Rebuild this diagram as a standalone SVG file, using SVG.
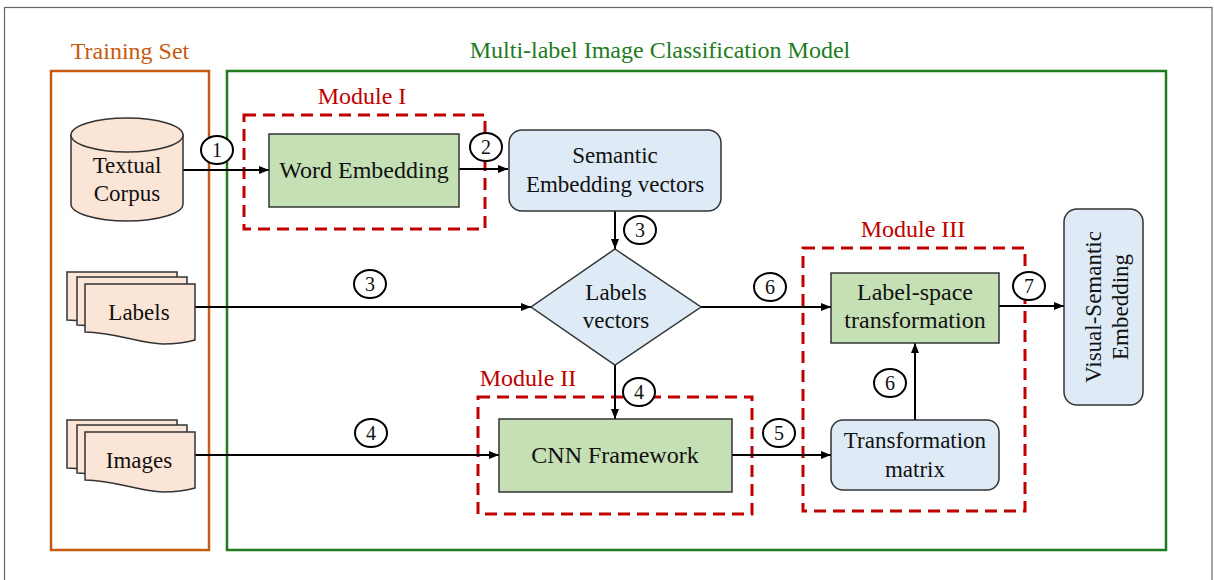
<svg xmlns="http://www.w3.org/2000/svg" width="1214" height="580" viewBox="0 0 1214 580" font-family="'Liberation Serif', 'Times New Roman', serif">
<defs>
<style>
text{font-family:'Liberation Serif','Times New Roman',serif;fill:#111;}
.t{font-size:23px;text-anchor:middle;}
.b{font-size:24px;}
.num{font-size:20px;text-anchor:middle;}
.mod{font-size:24px;text-anchor:middle;fill:#C00000;}
.node{stroke:#333;stroke-width:1.5;}
.green{fill:#C5E0B4;}
.blue{fill:#DEEBF7;}
.peach{fill:#FBE5D6;}
.dash{fill:none;stroke:#C00000;stroke-width:3;stroke-dasharray:12 7;}
.circ{fill:#fff;stroke:#000;stroke-width:2;}
.conn{fill:none;stroke:#000;stroke-width:2;marker-end:url(#ah);}
</style>
<marker id="ah" markerUnits="userSpaceOnUse" markerWidth="10" markerHeight="8" refX="10" refY="4" orient="auto">
<path d="M0,0 L10,4 L0,8 Z" fill="#000"/>
</marker>
<path id="doc" d="M0,0 H110 V56 C103,58 93,60 78,60 C55,60 30,48 0,48 Z"/>
</defs>
<rect x="0" y="0" width="1214" height="580" fill="#fff"/>
<rect x="4.5" y="7.5" width="1207.5" height="600" fill="none" stroke="#666" stroke-width="1.2"/>

<g id="training-set">
<rect x="51" y="71" width="158" height="479" fill="none" stroke="#C55A11" stroke-width="2.5"/>
<text x="130" y="59" class="t b" style="fill:#C55A11">Training Set</text>
</g>
<g id="model">
<rect x="227" y="71" width="939" height="479" fill="none" stroke="#1E7B1E" stroke-width="2.5"/>
<text x="660" y="58" class="t b" style="fill:#1E7B1E">Multi-label Image Classification Model</text>
</g>

<g id="module-1">
<rect x="244" y="115" width="241" height="114" class="dash"/>
<text x="362" y="104" class="mod">Module I</text>
</g>
<g id="module-2">
<rect x="478" y="397" width="274" height="117" class="dash"/>
<text x="528" y="386" class="mod">Module II</text>
</g>
<g id="module-3">
<rect x="803" y="248" width="222" height="263" class="dash"/>
<text x="913" y="237" class="mod">Module III</text>
</g>

<g id="connectors">
<line x1="183" y1="170" x2="269" y2="170" class="conn"/>
<line x1="459" y1="169" x2="508" y2="169" class="conn"/>
<line x1="615" y1="211" x2="615" y2="249" class="conn"/>
<line x1="195" y1="307" x2="531" y2="307" class="conn"/>
<line x1="701" y1="307" x2="831" y2="307" class="conn"/>
<line x1="615" y1="365" x2="615" y2="419" class="conn"/>
<line x1="195" y1="455" x2="499" y2="455" class="conn"/>
<line x1="732" y1="455" x2="831" y2="455" class="conn"/>
<line x1="915" y1="420" x2="915" y2="343" class="conn"/>
<line x1="999" y1="306" x2="1064" y2="306" class="conn"/>
<g id="step-labels">
<ellipse cx="217" cy="150" rx="16" ry="14" class="circ"/><text x="217" y="157" class="num">1</text>
<ellipse cx="486" cy="147" rx="16" ry="14" class="circ"/><text x="486" y="154" class="num">2</text>
<ellipse cx="640" cy="230" rx="16" ry="14" class="circ"/><text x="640" y="237" class="num">3</text>
<ellipse cx="370" cy="284" rx="16" ry="14" class="circ"/><text x="370" y="291" class="num">3</text>
<ellipse cx="639" cy="392" rx="16" ry="14" class="circ"/><text x="639" y="399" class="num">4</text>
<ellipse cx="371" cy="433" rx="16" ry="14" class="circ"/><text x="371" y="440" class="num">4</text>
<ellipse cx="779" cy="433" rx="16" ry="14" class="circ"/><text x="779" y="440" class="num">5</text>
<ellipse cx="770" cy="287" rx="16" ry="14" class="circ"/><text x="770" y="294" class="num">6</text>
<ellipse cx="890" cy="383" rx="16" ry="14" class="circ"/><text x="890" y="390" class="num">6</text>
<ellipse cx="1029" cy="286" rx="16" ry="14" class="circ"/><text x="1029" y="293" class="num">7</text>
</g>
</g>

<g id="textual-corpus">
<path d="M71,135 V204 A56,17 0 0 0 183,204 V135 Z" class="peach node"/>
<ellipse cx="127" cy="135" rx="56" ry="17" class="peach node"/>
<text x="127" y="173" class="t">Textual</text>
<text x="127" y="201" class="t">Corpus</text>
</g>

<g id="labels">
<use href="#doc" x="67" y="272" class="peach node"/>
<use href="#doc" x="77" y="277" class="peach node"/>
<use href="#doc" x="85" y="284" class="peach node"/>
<text x="139" y="320" class="t">Labels</text>
</g>

<g id="images">
<use href="#doc" x="67" y="420" class="peach node"/>
<use href="#doc" x="77" y="425" class="peach node"/>
<use href="#doc" x="85" y="432" class="peach node"/>
<text x="139" y="468" class="t">Images</text>
</g>

<g id="word-embedding">
<rect x="269" y="134" width="190" height="73" class="green node"/>
<text x="364" y="178" class="t b">Word Embedding</text>
</g>

<g id="semantic-embedding">
<rect x="509" y="130" width="212" height="81" rx="13" class="blue node"/>
<text x="615" y="163" class="t">Semantic</text>
<text x="615" y="192" class="t">Embedding vectors</text>
</g>

<g id="labels-vectors">
<polygon points="615,249 701,307 615,365 531,307" class="blue node"/>
<text x="616" y="300" class="t">Labels</text>
<text x="616" y="328" class="t">vectors</text>
</g>

<g id="cnn-framework">
<rect x="499" y="419" width="233" height="73" class="green node"/>
<text x="615" y="463" class="t b">CNN Framework</text>
</g>

<g id="label-space-transformation">
<rect x="831" y="273" width="168" height="70" class="green node"/>
<text x="915" y="300" class="t b">Label-space</text>
<text x="915" y="328" class="t b">transformation</text>
</g>

<g id="transformation-matrix">
<rect x="831" y="420" width="168" height="70" rx="12" class="blue node"/>
<text x="915" y="448" class="t">Transformation</text>
<text x="915" y="477" class="t">matrix</text>
</g>

<g id="visual-semantic-embedding">
<rect x="1064" y="209" width="79" height="196" rx="13" class="blue node"/>
<text transform="translate(1101,307) rotate(-90)" class="t">Visual-Semantic</text>
<text transform="translate(1128,307) rotate(-90)" class="t">Embedding</text>
</g>
</svg>
